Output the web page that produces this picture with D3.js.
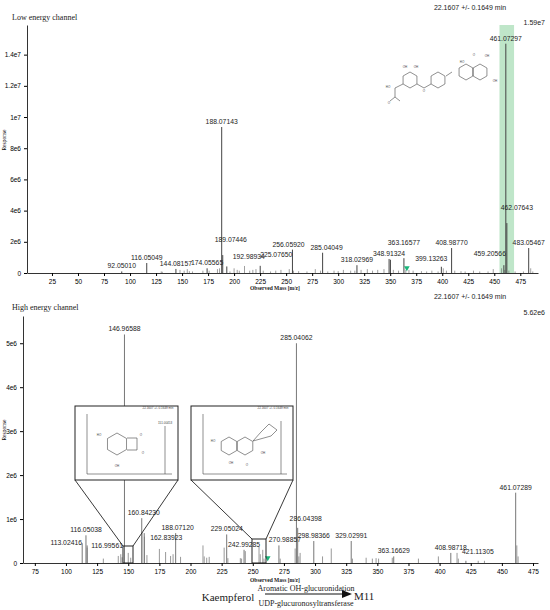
<!DOCTYPE html>
<html><head><meta charset="utf-8">
<script src="https://cdn.jsdelivr.net/npm/d3@7"></script>
<style>body{margin:0;background:#fff}</style>
</head><body><svg id="c" width="550" height="610" font-family="Liberation Sans, Arial, sans-serif"></svg>
<script>
// ---- data: low energy channel ----
const lowTicksX = [25,50,75,100,125,150,175,200,225,250,275,300,325,350,375,400,425,450,475];
const lowTicksY = [0,2e6,4e6,6e6,8e6,1e7,1.2e7,1.4e7];
const lowTickLabels = ["0","2e6","4e6","6e6","8e6","1e7","1.2e7","1.4e7"];
const lowMz =  [92.0501,116.05049,144.08157,174.05565,188.07143,189.07446,192.98934,225.0765,256.0592,285.04049,318.02969,348.91324,350.2,363.16577,399.13263,408.9877,459.20566,461.07297,462.07643,483.05467];
const lowInt = [1.0e5,6.4e5,2.6e5,3.0e5,9.36e6,1.15e6,4.2e5,4.6e5,1.5e6,1.3e6,5.0e5,9.0e5,8.5e5,9.5e5,4.0e5,1.6e6,5.0e5,1.47e7,3.2e6,1.6e6];
const lowLabeled = [true,true,true,true,true,true,true,true,true,true,true,true,false,true,true,true,true,true,true,true];
const lowMinorMz = [130,131,148,152,155,157,160,170,176,184,186,196,200,203,205,210,215,218,221,228,235,240,245,253,257,262,270,278,283,290,296,300,305,312,316,322,328,333,338,344,353,358,365,368,372,380,385,390,396,401,404,412,418,422,430,436,444,449,457,460,464,470,478,485,487];
const lowMinorInt = [1e5,8e4,2e5,1.5e5,2.5e5,1.2e5,1e5,1.5e5,1.5e5,2.5e5,3e5,1e5,3e5,2e5,1.5e5,4.5e5,1.5e5,2e5,2.5e5,1.5e5,1e5,1.5e5,2e5,2.5e5,1.5e5,1.2e5,1e5,2.5e5,1.5e5,1e5,1.5e5,1.2e5,2e5,1.5e5,1.5e5,2e5,2.5e5,1.5e5,2e5,2.5e5,2e5,1.5e5,2e5,2e5,1.5e5,1.2e5,1e5,1.5e5,1e5,3e5,1.5e5,1.5e5,1.2e5,1e5,1.5e5,1e5,1e5,2.5e5,3e5,2e5,1.5e5,1e5,1e5,3e5,1e5];
// ---- data: high energy channel ----
const highTicksX = [75,100,125,150,175,200,225,250,275,300,325,350,375,400,425,450,475];
const highTicksY = [0,1e6,2e6,3e6,4e6,5e6];
const highTickLabels = ["0","1e6","2e6","3e6","4e6","5e6"];
const highMz =  [113.02416,116.05038,116.99561,146.96588,160.8423,162.83923,188.0712,229.05024,242.99285,270.98857,285.04062,286.04398,298.98366,329.02991,363.16629,408.98718,421.11305,461.07289];
const highInt = [4.5e5,6.3e5,4.0e5,5.2e6,1.02e6,6.8e5,6.8e5,6.5e5,3.0e5,4.0e5,5.0e6,8.0e5,5.0e5,5.0e5,1.5e5,2.3e5,5e4,1.6e6];
const highMinorMz = [117,130,142,144,145,150,152,161,163,165,175,180,184,186,192,210,211,213,215,227,230,240,241,244,255,256,258,259,272,284,287,288,306,313,330,341,346,349,351,362,383,399,414,415,431,436,462,463];
const highMinorInt = [3.5e5,1e5,1.6e5,2e5,1.3e5,2.3e5,1.2e5,7e5,6e5,1.8e5,3.2e5,2.5e5,1.6e5,2e5,1.4e5,4e5,1.5e5,1.2e5,1.4e5,3.5e5,1.1e5,1.1e5,1e5,2.7e5,3.7e5,2e5,3e5,1e5,1e5,3.3e5,1.5e5,2.3e5,1.5e5,3.3e5,1e5,1.2e5,1e5,1.1e5,1e5,1.2e5,1e5,1.5e5,2.3e5,1e5,5e4,5e4,4e5,1.5e5];

const svg = d3.select("#c");
const fmt = d => d.toFixed(5);
const LFS = 6.8;

// ---------- LOW ----------
const xL = d3.scaleLinear().domain([1,492]).range([27,538]);
const yL = d3.scaleLinear().domain([0,1.59e7]).range([273,25]);
const gL = svg.append("g");
gL.append("rect").attr("x",xL(455)).attr("width",xL(469)-xL(455)).attr("y",yL(1.59e7)).attr("height",yL(0)-yL(1.59e7)).attr("fill","#bfe6c9");
gL.selectAll(".mn").data(lowMinorMz).join("line").attr("x1",d=>xL(d)).attr("x2",d=>xL(d)).attr("y1",yL(0)).attr("y2",(d,i)=>yL(lowMinorInt[i])).attr("stroke","#777").attr("stroke-width",0.7);
gL.selectAll(".pk").data(lowMz).join("line").attr("x1",d=>xL(d)).attr("x2",d=>xL(d)).attr("y1",yL(0)).attr("y2",(d,i)=>yL(lowInt[i])).attr("stroke","#444").attr("stroke-width",1);
const lowOff = {189.07446:[8,-10],192.98934:[22,-4],225.0765:[16,-6],256.0592:[-4,0],285.04049:[4,0],363.16577:[0,-10],399.13263:[-10,-3],459.20566:[-14,-6],462.07643:[10,-10]};
gL.selectAll(".lb").data(lowMz.filter((d,i)=>lowLabeled[i])).join("text")
  .attr("x",d=>xL(d)+((lowOff[d]||[0,0])[0])).attr("y",d=>yL(lowInt[lowMz.indexOf(d)])-3+((lowOff[d]||[0,0])[1]))
  .attr("text-anchor","middle").attr("font-size",LFS).attr("fill","#222").text(fmt);
gL.append("g").attr("transform","translate(0,273)").call(d3.axisBottom(xL).tickValues(lowTicksX).tickSize(3).tickSizeOuter(0))
  .call(g=>g.selectAll("text").attr("font-size",6.5)).call(g=>g.select(".domain").attr("stroke","#333"));
gL.append("g").attr("transform","translate(27,0)").call(d3.axisLeft(yL).tickValues(lowTicksY).tickFormat((d,i)=>lowTickLabels[i]).tickSize(3).tickSizeOuter(0))
  .call(g=>g.selectAll("text").attr("font-size",6.5)).call(g=>g.select(".domain").attr("stroke","#333"));
gL.append("path").attr("d",d3.symbol(d3.symbolTriangle,14)()).attr("transform",`translate(${xL(366)},268) rotate(180)`).attr("fill","#1ab57a");

// ---------- HIGH ----------
const xH = d3.scaleLinear().domain([65.5,479]).range([23,538]);
const yH = d3.scaleLinear().domain([0,5.62e6]).range([563,316]);
const gH = svg.append("g");
gH.selectAll(".mn").data(highMinorMz).join("line").attr("x1",d=>xH(d)).attr("x2",d=>xH(d)).attr("y1",yH(0)).attr("y2",(d,i)=>yH(highMinorInt[i])).attr("stroke","#999").attr("stroke-width",1);
gH.selectAll(".pk").data(highMz).join("line").attr("x1",d=>xH(d)).attr("x2",d=>xH(d)).attr("y1",yH(0)).attr("y2",(d,i)=>yH(highInt[i])).attr("stroke","#777").attr("stroke-width",1);
const highOff = {113.02416:[-16,5],116.99561:[20,6],160.8423:[2,0],162.83923:[22,10],188.0712:[2,0],242.99285:[0,0],270.98857:[6,0],286.04398:[8,-4],421.11305:[12,-4]};
gH.selectAll(".lb").data(highMz).join("text")
  .attr("x",d=>xH(d)+((highOff[d]||[0,0])[0])).attr("y",d=>yH(highInt[highMz.indexOf(d)])-3+((highOff[d]||[0,0])[1]))
  .attr("text-anchor","middle").attr("font-size",LFS).attr("fill","#222").text(fmt);
gH.append("g").attr("transform","translate(0,563)").call(d3.axisBottom(xH).tickValues(highTicksX).tickSize(3).tickSizeOuter(0))
  .call(g=>g.selectAll("text").attr("font-size",6.5)).call(g=>g.select(".domain").attr("stroke","#333"));
gH.append("g").attr("transform","translate(23,0)").call(d3.axisLeft(yH).tickValues(highTicksY).tickFormat((d,i)=>highTickLabels[i]).tickSize(3).tickSizeOuter(0))
  .call(g=>g.selectAll("text").attr("font-size",6.5)).call(g=>g.select(".domain").attr("stroke","#333"));
gH.append("path").attr("d",d3.symbol(d3.symbolTriangle,14)()).attr("transform",`translate(${xH(262)},558) rotate(180)`).attr("fill","#1ab57a");

// ---------- text ----------
const T=(x,y,s,opt={})=>svg.append("text").attr("x",x).attr("y",y).attr("font-size",opt.fs||8).attr("text-anchor",opt.a||"start")
  .attr("font-family",opt.ff||"Liberation Serif, serif").attr("font-weight",opt.fw||"normal").attr("fill","#222").text(s);
T(12,20,"Low energy channel",{fs:8});
T(12,310,"High energy channel",{fs:8});
T(470,10,"22.1607 +/- 0.1649 min",{fs:7,a:"middle",ff:"Liberation Sans"});
T(470,299,"22.1607 +/- 0.1649 min",{fs:7,a:"middle",ff:"Liberation Sans"});
T(545,25,"1.59e7",{fs:7,a:"end",ff:"Liberation Sans"});
T(545,315,"5.62e6",{fs:7,a:"end",ff:"Liberation Sans"});
T(275,290,"Observed Mass [m/z]",{fs:5.5,a:"middle",fw:"bold"});
T(275,582,"Observed Mass [m/z]",{fs:5.5,a:"middle",fw:"bold"});
svg.append("text").attr("transform","translate(6,140) rotate(-90)").attr("font-size",5.5).attr("text-anchor","middle").attr("font-family","Liberation Serif").text("Response");
svg.append("text").attr("transform","translate(6,430) rotate(-90)").attr("font-size",5.5).attr("text-anchor","middle").attr("font-family","Liberation Serif").text("Response");
T(228,601,"Kaempferol",{fs:11,a:"middle"});
T(306,591,"Aromatic OH-glucuronidation",{fs:8,a:"middle"});
T(306,606,"UDP-glucuronosyltransferase",{fs:8,a:"middle"});
svg.append("line").attr("x1",265).attr("x2",345).attr("y1",594).attr("y2",594).attr("stroke","#111");
svg.append("path").attr("d","M342,590 L352,594 L342,598 Z").attr("fill","#111");
T(354,600,"M11",{fs:11});

// ---------- structures (schematic) ----------
function hex(g,cx,cy,r){const p=d3.range(6).map(i=>[cx+r*Math.cos(Math.PI/6+i*Math.PI/3),cy+r*Math.sin(Math.PI/6+i*Math.PI/3)]);
  g.append("path").attr("d","M"+p.map(q=>q.join(",")).join("L")+"Z").attr("fill","none").attr("stroke","#444").attr("stroke-width",0.6);}
function ln(g,a,b,c,d){g.append("line").attr("x1",a).attr("y1",b).attr("x2",c).attr("y2",d).attr("stroke","#444").attr("stroke-width",0.6);}
function lab(g,x,y,s){g.append("text").attr("x",x).attr("y",y).attr("font-size",3).attr("fill","#444").attr("text-anchor","middle").text(s);}
const st=svg.append("g");
hex(st,410,80,8); hex(st,438,80,8); hex(st,466,72,8); hex(st,480,72,8);
ln(st,417,84,424,88);ln(st,424,88,431,84);ln(st,446,76,452,72);
ln(st,403,84,395,88);ln(st,395,88,395,97);ln(st,395,97,390,101);ln(st,395,97,400,101);
lab(st,388,88,"HO");lab(st,405,68,"OH");lab(st,416,68,"OH");lab(st,474,56,"O");lab(st,487,57,"OH");lab(st,462,63,"HO");lab(st,495,82,"OH");lab(st,424,92,"O");lab(st,389,104,"O");

function inset(x0,x1,y0,y1,bx0,bx1,by0,by1,kind){
  const g=svg.append("g");
  g.append("rect").attr("x",x0).attr("y",y0).attr("width",x1-x0).attr("height",y1-y0).attr("fill","#fff").attr("stroke","#222").attr("stroke-width",1);
  g.append("rect").attr("x",bx0).attr("y",by0).attr("width",bx1-bx0).attr("height",by1-by0).attr("fill","none").attr("stroke","#222").attr("stroke-width",1);
  ln(g,x0,y1,bx0,by0);ln(g,x1,y1,bx1,by0);
  g.selectAll("line").attr("stroke","#222").attr("stroke-width",0.9);
  ln(g,x0+12,y0+8,x0+12,y1-6);ln(g,x0+12,y1-6,x1-6,y1-6);
  lab(g,x1-20,y0+3,"22.1607 +/- 0.1649 min");
  if(kind===1){hex(g,x0+42,y0+38,11);g.append("path").attr("d",`M${x0+52},${y0+32}L${x0+62},${y0+32}L${x0+62},${y0+44}L${x0+52},${y0+44}`).attr("fill","none").attr("stroke","#444").attr("stroke-width",0.6);
    lab(g,x0+24,y0+30,"HO");lab(g,x0+42,y0+61,"OH");lab(g,x0+66,y0+30,"O");lab(g,x0+68,y0+48,"O");
    ln(g,x0+90,y0+20,x0+90,y1-6);lab(g,x0+90,y0+18,"151.00453");}
  else{hex(g,x0+38,y0+40,9);hex(g,x0+54,y0+40,9);
    g.append("path").attr("d",`M${x0+62},${y0+35}L${x0+70},${y0+26}L${x0+78},${y0+18}L${x0+86},${y0+24}L${x0+80},${y0+30}Z`).attr("fill","none").attr("stroke","#444").attr("stroke-width",0.6);
    lab(g,x0+22,y0+36,"HO");lab(g,x0+40,y0+58,"OH");lab(g,x0+56,y0+60,"O");lab(g,x0+72,y0+48,"OH");
    ln(g,x1-12,y0+15,x1-12,y1-6);}
}
inset(75,178,406,480,123,133,546,563,1);
inset(191,293,406,480,252,266,539,563,2);
</script></body></html>
